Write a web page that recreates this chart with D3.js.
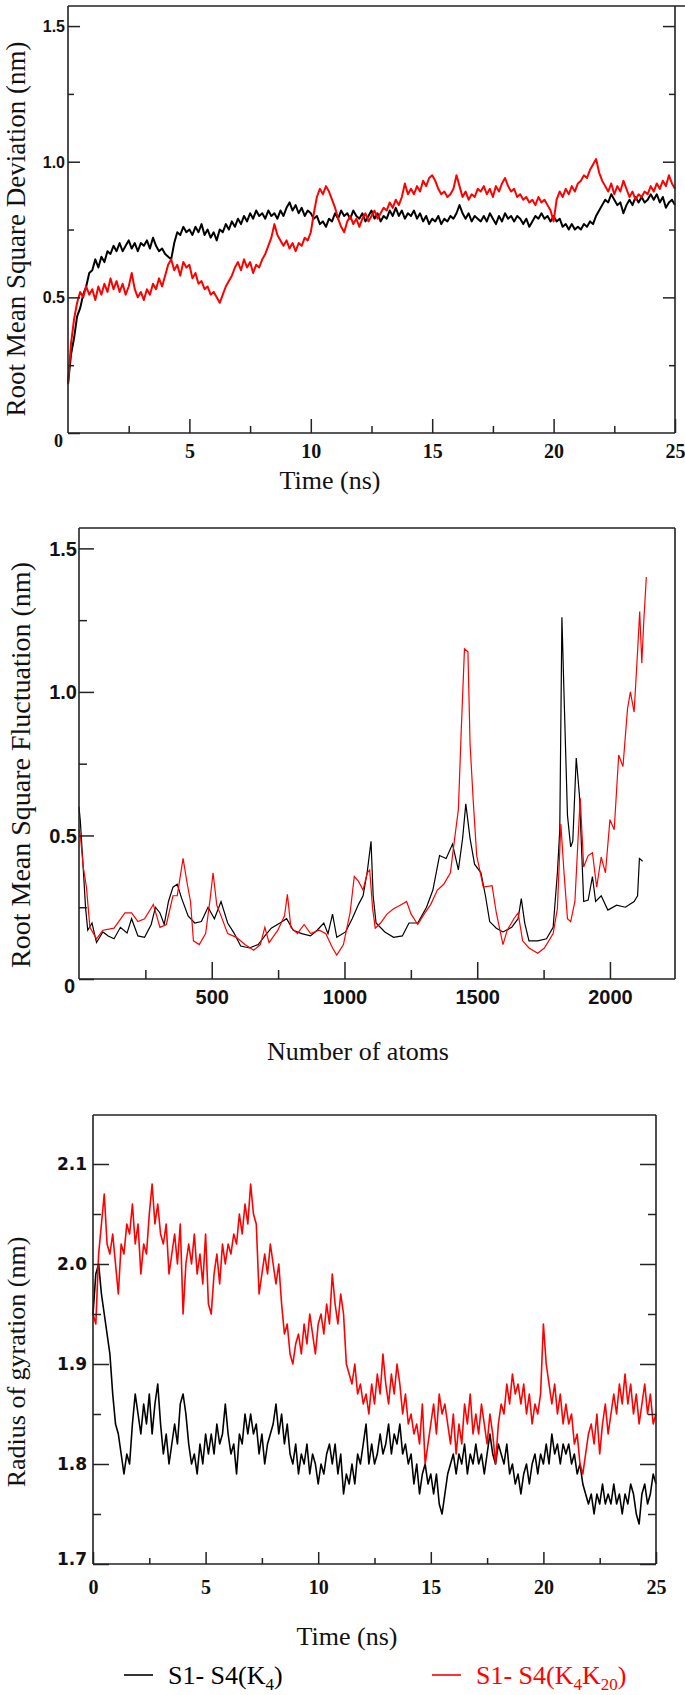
<!DOCTYPE html>
<html><head><meta charset="utf-8">
<script src="https://cdn.jsdelivr.net/npm/d3@7"></script>
<style>body{margin:0;background:#fff}</style>
</head><body>
<script>
// ---------------- DATA ----------------
// RMSD (nm), sampled every 0.125 ns from 0 to 25 ns
const rmsdTimeStep = 0.125;
const rmsdBlack = [
0.18,0.29,0.35,0.43,0.46,0.51,0.54,0.59,0.60,
0.64,0.61,0.65,0.63,0.67,0.66,0.69,0.67,
0.70,0.67,0.69,0.71,0.68,0.70,0.67,0.70,
0.69,0.71,0.68,0.72,0.69,0.67,0.68,0.66,
0.65,0.64,0.70,0.74,0.73,0.76,0.74,0.75,
0.73,0.76,0.74,0.77,0.73,0.75,0.72,0.74,
0.71,0.75,0.74,0.77,0.75,0.78,0.76,0.79,
0.77,0.80,0.78,0.81,0.79,0.82,0.80,0.81,
0.79,0.82,0.80,0.81,0.79,0.82,0.80,0.83,
0.85,0.82,0.84,0.81,0.83,0.80,0.82,0.81,
0.79,0.80,0.77,0.78,0.76,0.79,0.78,0.81,
0.79,0.82,0.80,0.81,0.79,0.82,0.80,0.79,
0.81,0.78,0.80,0.82,0.79,0.81,0.78,0.80,
0.79,0.82,0.80,0.83,0.80,0.82,0.79,0.81,
0.80,0.82,0.79,0.81,0.78,0.80,0.77,0.79,
0.78,0.80,0.77,0.79,0.78,0.80,0.79,0.81,
0.84,0.81,0.79,0.81,0.78,0.80,0.79,0.78,
0.80,0.78,0.81,0.79,0.77,0.80,0.78,0.81,
0.79,0.80,0.78,0.80,0.79,0.77,0.79,0.76,
0.78,0.80,0.79,0.81,0.79,0.80,0.78,0.80,
0.78,0.79,0.76,0.77,0.75,0.77,0.75,0.76,
0.75,0.77,0.76,0.78,0.77,0.80,0.82,0.84,
0.86,0.85,0.88,0.86,0.84,0.85,0.81,0.84,
0.86,0.84,0.87,0.85,0.87,0.85,0.86,0.88,
0.86,0.88,0.85,0.87,0.83,0.85,0.86,0.84];
const rmsdRed = [
0.18,0.33,0.42,0.48,0.52,0.50,0.54,0.51,0.53,
0.49,0.54,0.51,0.55,0.52,0.57,0.53,0.56,
0.52,0.55,0.51,0.54,0.59,0.53,0.50,0.52,
0.49,0.53,0.51,0.55,0.53,0.57,0.54,0.58,
0.62,0.64,0.60,0.62,0.58,0.63,0.61,0.62,
0.57,0.59,0.55,0.56,0.53,0.54,0.51,0.52,
0.50,0.48,0.51,0.54,0.56,0.58,0.61,0.63,
0.60,0.64,0.61,0.63,0.59,0.62,0.61,0.64,
0.66,0.69,0.72,0.77,0.73,0.71,0.69,0.71,
0.68,0.70,0.67,0.70,0.69,0.72,0.71,0.74,
0.81,0.87,0.90,0.88,0.91,0.89,0.86,0.83,
0.79,0.76,0.74,0.78,0.80,0.77,0.79,0.76,
0.79,0.81,0.78,0.80,0.82,0.79,0.81,0.83,
0.82,0.85,0.83,0.86,0.84,0.87,0.92,0.88,
0.90,0.88,0.91,0.89,0.93,0.91,0.94,0.95,
0.93,0.90,0.88,0.89,0.87,0.88,0.90,0.95,
0.91,0.87,0.89,0.86,0.88,0.87,0.90,0.89,
0.91,0.88,0.90,0.87,0.91,0.89,0.92,0.94,
0.91,0.89,0.90,0.87,0.88,0.86,0.87,0.85,
0.86,0.84,0.87,0.85,0.86,0.84,0.82,0.78,
0.86,0.89,0.87,0.90,0.88,0.91,0.89,0.92,
0.93,0.95,0.94,0.97,0.99,1.01,0.96,0.93,
0.91,0.89,0.92,0.88,0.91,0.89,0.93,0.90,
0.87,0.89,0.86,0.88,0.87,0.89,0.88,0.91,
0.89,0.92,0.90,0.93,0.91,0.95,0.92,0.90];
const rmsdXTicks = [5,10,15,20,25];
const rmsdXMinor = [2.5,7.5,12.5,17.5,22.5];
const rmsdYTicks = [0,0.5,1.0,1.5];
const rmsdYMinor = [0.25,0.75,1.25];

// RMSF (nm) vs atom number
const rmsfBlackAtoms = [0,5,15,25,33,49,66,90,110,132,156,181,198,222,247,272,288,305,321,337,354,370,387,411,436,461,486,510,535,560,584,609,642,675,700,724,757,782,807,839,872,897,922,938,955,971,1004,1029,1053,1070,1086,1100,1108,1119,1152,1185,1218,1243,1276,1309,1333,1358,1383,1407,1429,1445,1457,1473,1490,1514,1531,1547,1572,1597,1630,1654,1666,1679,1695,1728,1761,1786,1802,1811,1819,1827,1840,1852,1860,1873,1885,1901,1918,1934,1946,1967,1992,2025,2058,2091,2104,2111,2123];
const rmsfBlack = [0.60,0.55,0.40,0.245,0.17,0.195,0.127,0.164,0.15,0.14,0.18,0.16,0.21,0.15,0.145,0.19,0.25,0.23,0.19,0.27,0.32,0.33,0.28,0.22,0.195,0.20,0.25,0.21,0.27,0.195,0.16,0.115,0.108,0.12,0.15,0.177,0.195,0.21,0.17,0.158,0.15,0.17,0.195,0.158,0.226,0.145,0.164,0.21,0.26,0.29,0.375,0.48,0.29,0.195,0.164,0.145,0.15,0.195,0.195,0.25,0.31,0.43,0.42,0.47,0.38,0.49,0.61,0.49,0.40,0.37,0.29,0.20,0.177,0.164,0.18,0.21,0.28,0.195,0.133,0.133,0.14,0.18,0.37,0.52,1.26,0.99,0.57,0.46,0.48,0.77,0.64,0.27,0.275,0.357,0.27,0.29,0.24,0.257,0.25,0.27,0.29,0.42,0.41];
const rmsfRedAtoms = [0,5,16,28,41,66,90,132,173,198,222,247,280,305,329,354,370,392,408,420,431,453,477,494,505,519,535,560,593,625,658,683,700,716,749,774,785,798,823,848,872,905,930,955,971,996,1021,1037,1053,1070,1086,1095,1106,1116,1136,1160,1185,1210,1234,1251,1276,1300,1325,1350,1374,1399,1415,1429,1440,1452,1465,1473,1485,1498,1523,1556,1572,1597,1613,1638,1654,1671,1695,1728,1753,1786,1802,1815,1827,1840,1852,1868,1880,1888,1901,1918,1934,1950,1967,1983,2000,2016,2033,2049,2066,2077,2091,2104,2112,2120,2127,2137];
const rmsfRed = [0.52,0.50,0.39,0.32,0.18,0.14,0.17,0.177,0.23,0.23,0.20,0.21,0.26,0.18,0.19,0.29,0.29,0.42,0.33,0.27,0.133,0.12,0.158,0.28,0.37,0.257,0.22,0.158,0.145,0.12,0.10,0.12,0.18,0.127,0.17,0.22,0.295,0.18,0.158,0.19,0.158,0.17,0.158,0.108,0.083,0.12,0.23,0.357,0.34,0.31,0.37,0.38,0.245,0.177,0.195,0.226,0.245,0.257,0.27,0.226,0.19,0.226,0.26,0.31,0.33,0.37,0.49,0.59,0.87,1.15,1.14,0.82,0.62,0.43,0.32,0.325,0.23,0.12,0.17,0.21,0.23,0.133,0.108,0.09,0.108,0.158,0.245,0.54,0.37,0.21,0.20,0.27,0.49,0.63,0.39,0.43,0.44,0.32,0.425,0.37,0.555,0.52,0.78,0.74,0.94,1.00,0.93,1.14,1.28,1.10,1.24,1.40];
const rmsfXTicks = [500,1000,1500,2000];
const rmsfXMinor = [250,750,1250,1750];
const rmsfYTicks = [0,0.5,1.0,1.5];
const rmsfYMinor = [0.25,0.75,1.25];

// Radius of gyration (nm), sampled every 0.125 ns
const rgTimeStep = 0.125;
const rgBlack = [
1.95,1.99,2.00,1.97,1.95,1.93,1.91,1.87,1.84,
1.83,1.81,1.79,1.81,1.80,1.84,1.87,1.85,
1.83,1.86,1.84,1.87,1.83,1.86,1.88,1.84,
1.81,1.83,1.80,1.82,1.84,1.82,1.86,1.87,
1.85,1.82,1.80,1.81,1.79,1.82,1.80,1.83,
1.81,1.83,1.81,1.84,1.82,1.83,1.86,1.83,
1.81,1.82,1.79,1.83,1.82,1.85,1.83,1.85,
1.83,1.84,1.81,1.83,1.80,1.82,1.83,1.84,
1.86,1.83,1.85,1.82,1.84,1.81,1.80,1.82,
1.79,1.81,1.80,1.82,1.79,1.81,1.80,1.78,
1.80,1.79,1.81,1.82,1.80,1.82,1.79,1.81,
1.77,1.79,1.78,1.80,1.78,1.81,1.80,1.82,
1.84,1.80,1.82,1.80,1.81,1.83,1.81,1.82,
1.84,1.81,1.83,1.82,1.84,1.81,1.82,1.80,
1.81,1.78,1.80,1.77,1.79,1.80,1.78,1.79,
1.77,1.79,1.76,1.75,1.77,1.79,1.80,1.81,
1.79,1.81,1.80,1.82,1.79,1.81,1.80,1.82,
1.80,1.81,1.79,1.81,1.83,1.81,1.80,1.82,
1.81,1.80,1.82,1.79,1.80,1.78,1.79,1.77,
1.79,1.80,1.78,1.80,1.81,1.79,1.81,1.80,
1.82,1.80,1.83,1.81,1.82,1.80,1.82,1.81,
1.82,1.80,1.81,1.79,1.80,1.78,1.77,1.76,
1.77,1.75,1.77,1.76,1.78,1.76,1.77,1.76,
1.78,1.76,1.77,1.75,1.77,1.76,1.78,1.77,
1.75,1.74,1.77,1.78,1.76,1.77,1.79,1.78];
const rgRed = [
1.95,1.94,2.01,2.04,2.07,2.02,2.01,2.03,2.00,
1.97,2.02,2.01,2.04,2.03,2.06,2.02,2.04,
1.99,2.02,2.01,2.05,2.08,2.04,2.06,2.03,
2.02,2.04,1.99,2.01,2.03,2.00,2.04,1.95,
2.00,2.02,2.00,2.03,1.99,2.01,1.98,2.03,
1.96,1.95,1.99,2.01,1.98,2.02,2.00,2.02,
2.01,2.03,2.02,2.05,2.03,2.06,2.04,2.08,
2.05,2.04,1.97,1.99,2.01,1.99,2.02,2.00,
1.98,2.00,1.96,1.93,1.94,1.91,1.90,1.92,
1.93,1.91,1.94,1.92,1.95,1.93,1.91,1.94,
1.95,1.93,1.96,1.94,1.99,1.96,1.94,1.97,
1.95,1.90,1.89,1.88,1.90,1.87,1.88,1.86,
1.87,1.85,1.88,1.86,1.89,1.87,1.91,1.88,
1.86,1.89,1.87,1.90,1.88,1.85,1.87,1.84,
1.85,1.83,1.84,1.82,1.86,1.80,1.82,1.84,
1.86,1.83,1.87,1.85,1.86,1.84,1.82,1.85,
1.81,1.84,1.82,1.86,1.84,1.87,1.83,1.85,
1.83,1.86,1.84,1.82,1.85,1.83,1.80,1.84,
1.86,1.85,1.88,1.86,1.89,1.87,1.88,1.86,
1.88,1.85,1.87,1.84,1.86,1.85,1.87,1.94,
1.90,1.88,1.86,1.88,1.85,1.87,1.84,1.86,
1.84,1.85,1.82,1.83,1.80,1.79,1.81,1.83,
1.84,1.82,1.85,1.81,1.84,1.86,1.83,1.85,
1.87,1.85,1.88,1.86,1.89,1.86,1.88,1.85,
1.87,1.84,1.86,1.88,1.85,1.87,1.84,1.85];
const rgXTicks = [0,5,10,15,20,25];
const rgXMinor = [2.5,7.5,12.5,17.5,22.5];
const rgYTicks = [1.7,1.8,1.9,2.0,2.1];
const rgYMinor = [1.75,1.85,1.95,2.05];

const legendLabels = ["S1- S4(K4)", "S1- S4(K4K20)"];
const seriesColors = ["#000000", "#ff0000"];

// ---------------- DRAWING ----------------
const SERIF = "'Liberation Serif','Times New Roman',serif";
const SANS = "'Liberation Sans',Arial,sans-serif";
const DJV = "'DejaVu Sans',Verdana,sans-serif";
const FRAME = "#222";

const svg = d3.select("body").append("svg").attr("width",685).attr("height",1695);

function hline(x1,x2,y){svg.append("line").attr("x1",x1).attr("x2",x2).attr("y1",y).attr("y2",y).attr("stroke",FRAME).attr("stroke-width",1.6);}
function vline(x,y1,y2){svg.append("line").attr("x1",x).attr("x2",x).attr("y1",y1).attr("y2",y2).attr("stroke",FRAME).attr("stroke-width",1.6);}

function axisG(tx,ty,axis){
  const g = svg.append("g").attr("transform",`translate(${tx},${ty})`).attr("color",FRAME).call(axis);
  g.select(".domain").remove();
  g.selectAll("line").attr("stroke-width",1.5);
  return g;
}
function styleText(g,family,size,weight){
  g.attr("font-family",family).attr("font-size",size).attr("font-weight",weight);
  g.selectAll("text").attr("fill","#111");
}
function ylabel(text,x,y,size){
  svg.append("text").attr("transform",`translate(${x},${y}) rotate(-90)`)
    .attr("text-anchor","middle").attr("dominant-baseline","central")
    .attr("font-family",SERIF).attr("font-size",size).attr("fill","#111").text(text);
}
function xlabel(text,x,y,size){
  svg.append("text").attr("x",x).attr("y",y).attr("text-anchor","middle").attr("dominant-baseline","central")
    .attr("font-family",SERIF).attr("font-size",size).attr("fill","#111").text(text);
}
function fmt1(d){return d===0?"0":d3.format(".1f")(d);}

// ---- Panel 1: RMSD ----
{
  const x = d3.scaleLinear().domain([0,25]).range([68,675]);
  const y = d3.scaleLinear().domain([0,1.574]).range([433,6]);
  const line = d3.line().x((d,i)=>x(i*rmsdTimeStep)).y(d=>y(d));
  svg.append("path").datum(rmsdBlack).attr("d",line).attr("fill","none").attr("stroke",seriesColors[0]).attr("stroke-width",2).attr("stroke-linejoin","round");
  svg.append("path").datum(rmsdRed).attr("d",line).attr("fill","none").attr("stroke",seriesColors[1]).attr("stroke-width",2).attr("stroke-linejoin","round");

  vline(68,6,433); hline(68,675,433); vline(675,6,433); hline(68,685,6);

  axisG(0,433,d3.axisBottom(x).tickValues(rmsdXMinor).tickSize(-7).tickFormat(""));
  const gx = axisG(0,433,d3.axisBottom(x).tickValues(rmsdXTicks).tickSize(-14).tickFormat(d=>d));
  styleText(gx,SERIF,20,"bold");
  gx.selectAll("text").attr("y",18).attr("dy","0.35em");

  axisG(68,0,d3.axisLeft(y).tickValues(rmsdYMinor).tickSize(-6).tickFormat(""));
  const gy = axisG(68,0,d3.axisLeft(y).tickValues(rmsdYTicks).tickSize(-12).tickPadding(3).tickFormat(fmt1));
  styleText(gy,SANS,16,"bold");
  gy.selectAll("text").attr("dy",d=>d===0?"0.75em":"0.35em").attr("x",d=>d===0?-5:-3);
  gy.selectAll("text").filter(d=>d===0).attr("font-family",SERIF).attr("font-size",18);
  axisG(675,0,d3.axisRight(y).tickValues(rmsdYMinor).tickSize(-6).tickFormat(""));
  axisG(675,0,d3.axisRight(y).tickValues(rmsdYTicks.filter(d=>d>0)).tickSize(-12).tickFormat(""));

  ylabel("Root Mean Square Deviation (nm)",16,229,27);
  xlabel("Time (ns)",330,480,26);
}

// ---- Panel 2: RMSF ----
{
  const x = d3.scaleLinear().domain([0,2245]).range([79,675]);
  const y = d3.scaleLinear().domain([0,1.571]).range([979,528]);
  const lb = d3.line().x((d,i)=>x(rmsfBlackAtoms[i])).y(d=>y(d));
  const lr = d3.line().x((d,i)=>x(rmsfRedAtoms[i])).y(d=>y(d));
  svg.append("path").datum(rmsfBlack).attr("d",lb).attr("fill","none").attr("stroke",seriesColors[0]).attr("stroke-width",1.2);
  svg.append("path").datum(rmsfRed).attr("d",lr).attr("fill","none").attr("stroke",seriesColors[1]).attr("stroke-width",1.2);

  vline(79,528,979); hline(79,675,979); vline(675,528,979); hline(79,675,528);

  axisG(0,979,d3.axisBottom(x).tickValues(rmsfXMinor).tickSize(-9).tickFormat(""));
  const gx = axisG(0,979,d3.axisBottom(x).tickValues(rmsfXTicks).tickSize(-17).tickFormat(d=>d));
  styleText(gx,SANS,20,"bold");
  gx.selectAll("text").attr("y",18).attr("dy","0.35em");

  axisG(79,0,d3.axisLeft(y).tickValues(rmsfYMinor).tickSize(-8).tickFormat(""));
  const gy = axisG(79,0,d3.axisLeft(y).tickValues(rmsfYTicks).tickSize(-15).tickPadding(2).tickFormat(fmt1));
  styleText(gy,SANS,20,"bold");
  gy.selectAll("text").attr("dy",d=>d===0?"0.65em":"0.35em").attr("x",d=>d===0?-4:-2);

  ylabel("Root Mean Square Fluctuation (nm)",20,765,28);
  xlabel("Number of atoms",358,1051,26);
}

// ---- Panel 3: Radius of gyration ----
{
  const x = d3.scaleLinear().domain([0,25]).range([93,656]);
  const y = d3.scaleLinear().domain([1.7,2.149]).range([1564,1115]);
  const line = d3.line().x((d,i)=>x(i*rgTimeStep)).y(d=>y(d));
  svg.append("path").datum(rgBlack).attr("d",line).attr("fill","none").attr("stroke",seriesColors[0]).attr("stroke-width",1.6).attr("stroke-linejoin","round");
  svg.append("path").datum(rgRed).attr("d",line).attr("fill","none").attr("stroke",seriesColors[1]).attr("stroke-width",1.6).attr("stroke-linejoin","round");

  vline(93,1115,1564); hline(93,656,1564); vline(656,1115,1564); hline(93,656,1115);

  axisG(0,1564,d3.axisBottom(x).tickValues(rgXMinor).tickSize(-6).tickFormat(""));
  const gx = axisG(0,1564,d3.axisBottom(x).tickValues(rgXTicks).tickSize(-12).tickFormat(d=>d));
  styleText(gx,SERIF,20,"bold");
  gx.selectAll("text").attr("y",23).attr("dy","0.35em");

  axisG(93,0,d3.axisLeft(y).tickValues(rgYMinor).tickSize(-8).tickFormat(""));
  const gy = axisG(93,0,d3.axisLeft(y).tickValues(rgYTicks).tickSize(-16).tickPadding(6).tickFormat(d3.format(".1f")));
  styleText(gy,DJV,17,"bold");
  gy.selectAll("text").attr("dy",d=>d===1.7?"0.0em":"0.35em");
  axisG(656,0,d3.axisRight(y).tickValues(rgYMinor).tickSize(-8).tickFormat(""));
  axisG(656,0,d3.axisRight(y).tickValues(rgYTicks).tickSize(-16).tickFormat(""));

  ylabel("Radius of gyration (nm)",16,1362,26);
  xlabel("Time (ns)",347,1636,26);
}

// ---- Legend ----
{
  const ly = 1675;
  const items = [
    {x1:124,x2:153,tx:168,parts:[["S1- S4(K",0],["4",1],[")",0]]},
    {x1:432,x2:461,tx:476,parts:[["S1- S4(K",0],["4",1],["K",0],["20",1],[")",0]]}
  ];
  items.forEach((it,i)=>{
    svg.append("line").attr("x1",it.x1).attr("x2",it.x2).attr("y1",ly).attr("y2",ly)
      .attr("stroke",seriesColors[i]).attr("stroke-width",1.6);
    const t = svg.append("text").attr("x",it.tx).attr("y",ly+9).attr("font-family",SERIF)
      .attr("font-size",26).attr("fill",seriesColors[i]).attr("aria-label",legendLabels[i]);
    let shifted=false;
    it.parts.forEach(p=>{
      const s=t.append("tspan").text(p[0]);
      if(p[1]&&!shifted){s.attr("dy",6).attr("font-size",17);shifted=true;}
      else if(p[1]){s.attr("font-size",17);}
      else if(shifted){s.attr("dy",-6);shifted=false;}
    });
  });
}
</script>
</body></html>
